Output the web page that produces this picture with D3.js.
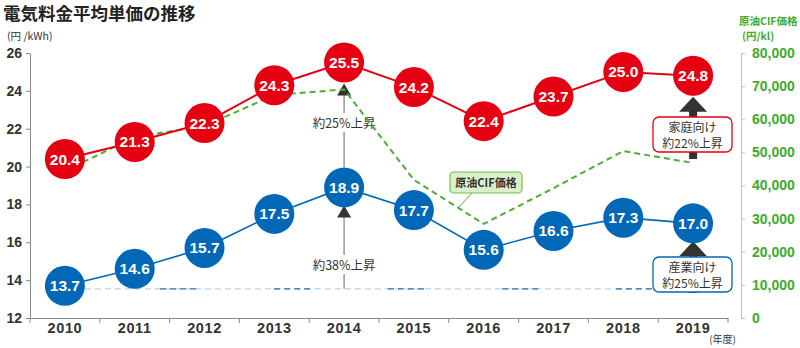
<!DOCTYPE html>
<html><head><meta charset="utf-8">
<script src="https://cdn.jsdelivr.net/npm/d3@7"></script>
<style>
html,body{margin:0;padding:0;background:#fff;}
svg{display:block;font-family:"Liberation Sans","Noto Sans CJK JP",sans-serif;}
</style></head>
<body><svg id="c" width="800" height="348"></svg>
<script>
const years = [2010,2011,2012,2013,2014,2015,2016,2017,2018,2019];
const household = [20.4,21.3,22.3,24.3,25.5,24.2,22.4,23.7,25.0,24.8];
const industry = [13.7,14.6,15.7,17.5,18.9,17.7,15.6,16.6,17.3,17.0];
const crude = [44400,54600,58000,67300,69000,41700,28400,39200,50400,46800];
const leftTicks = [12,14,16,18,20,22,24,26];
const rightTicks = [0,10000,20000,30000,40000,50000,60000,70000,80000];

const RED="#e50012", BLUE="#0068b6", GREEN="#4caf32", GTEXT="#3dab2b", DARK="#333";
const svg = d3.select("#c");
const x = d3.scaleBand().domain(years).range([30,728]);
const cx = d => x(d) + x.bandwidth()/2;
const yL = d3.scaleLinear().domain([12,26]).range([318,53]);
const yR = d3.scaleLinear().domain([0,80000]).range([318,53]);
const R = 20;

// titles
svg.append("text").attr("x",3).attr("y",20).attr("font-size",17.5).attr("font-weight","bold")
  .attr("fill","#222").attr("font-family","Noto Sans CJK JP").text("電気料金平均単価の推移");
svg.append("text").attr("x",7).attr("y",40).attr("font-size",10.5).attr("fill",DARK)
  .attr("font-family","Noto Sans CJK JP").text("(円 /kWh)");
svg.append("text").attr("x",739).attr("y",25).attr("font-size",10.5).attr("font-weight","bold")
  .attr("fill",GTEXT).attr("font-family","Noto Sans CJK JP").text("原油CIF価格");
svg.append("text").attr("x",742).attr("y",40).attr("font-size",10.5).attr("font-weight","bold")
  .attr("fill",GTEXT).attr("font-family","Noto Sans CJK JP").text("(円/kl)");
svg.append("text").attr("x",736).attr("y",343).attr("font-size",10).attr("text-anchor","end")
  .attr("fill",DARK).attr("font-family","Noto Sans CJK JP").text("(年度)");

// left axis
const gl = svg.append("g").attr("transform","translate(30,0)")
  .call(d3.axisLeft(yL).tickValues(leftTicks).tickSize(4).tickPadding(4).tickSizeOuter(0));
gl.select(".domain").attr("stroke","#888");
gl.selectAll(".tick line").attr("stroke","#888");
gl.selectAll(".tick text").attr("font-size",14).attr("font-weight","bold").attr("fill",DARK)
  .attr("font-family","Liberation Sans");

// right axis
const gr = svg.append("g").attr("transform","translate(741,0)")
  .call(d3.axisRight(yR).tickValues(rightTicks).tickSize(4).tickPadding(7).tickSizeOuter(0)
    .tickFormat(d3.format(",")));
gr.select(".domain").attr("stroke","#a8d69a");
gr.selectAll(".tick line").attr("stroke","#a8d69a");
gr.selectAll(".tick text").attr("font-size",14).attr("font-weight","bold").attr("fill",GTEXT)
  .attr("font-family","Liberation Sans");

// bottom axis
const gb = svg.append("g").attr("transform","translate(0,318)")
  .call(d3.axisBottom(x).tickSize(0).tickPadding(5).tickSizeOuter(0));
gb.select(".domain").attr("stroke","#888");
gb.selectAll(".tick text").attr("font-size",14.5).attr("font-weight","bold").attr("fill",DARK)
  .attr("letter-spacing",0.6).attr("font-family","Liberation Sans");
const bounds = years.map(d=>x(d)).concat([x.range()[1]]);
svg.append("g").selectAll("line").data(bounds).join("line")
  .attr("x1",d=>d).attr("x2",d=>d).attr("y1",318).attr("y2",323).attr("stroke","#888");

// industry baseline dashed
const baseY = yL(industry[0]) + 3;
svg.append("line").attr("x1",cx(years[0])).attr("x2",cx(years[9])).attr("y1",baseY).attr("y2",baseY)
  .attr("stroke","#b8d2ea").attr("stroke-width",1.2).attr("stroke-dasharray","6,4");
svg.append("line").attr("x1",160).attr("x2",cx(years[9])).attr("y1",baseY).attr("y2",baseY)
  .attr("stroke","#2f6fab").attr("stroke-width",1.2).attr("stroke-dasharray","6,4,6,4,6,4,6,78");

// 2014 thin arrows
const i14 = 4, x14 = cx(years[i14]);
function thinArrow(y0, yTip){
  svg.append("line").attr("x1",x14).attr("x2",x14).attr("y1",y0).attr("y2",yTip+10)
    .attr("stroke","#999").attr("stroke-width",1.5);
  svg.append("path").attr("d",`M${x14},${yTip} L${x14-7},${yTip+12} L${x14+7},${yTip+12} Z`).attr("fill",DARK);
}
thinArrow(baseY, yL(industry[i14])+R-2);
thinArrow(yL(industry[i14])-R, yL(household[i14])+R+1);
function whiteLabel(t, y){
  const g = svg.append("g");
  const tx = g.append("text").attr("x",x14).attr("y",y).attr("text-anchor","middle")
    .attr("font-size",12.5).attr("fill",DARK).attr("font-family","Noto Sans CJK JP").text(t);
  const b = tx.node().getBBox();
  g.insert("rect","text").attr("x",b.x-2).attr("y",b.y).attr("width",b.width+4).attr("height",b.height).attr("fill","#fff");
}
whiteLabel("約25%上昇",128);
whiteLabel("約38%上昇",270);

// crude line
const line = d3.line().x((d,i)=>cx(years[i]));
svg.append("path").datum(crude).attr("d",line.y(d=>yR(d)))
  .attr("fill","none").attr("stroke",GREEN).attr("stroke-width",2).attr("stroke-dasharray","6,4");

// crude legend box
svg.append("line").attr("x1",472).attr("y1",193).attr("x2",458).attr("y2",208).attr("stroke",GREEN).attr("stroke-width",1);
svg.append("rect").attr("x",450).attr("y",172).attr("width",72).attr("height",21).attr("rx",4)
  .attr("fill","#d9f0c9").attr("stroke","#72be52").attr("stroke-width",1.2);
svg.append("text").attr("x",486).attr("y",187).attr("text-anchor","middle").attr("font-size",11)
  .attr("font-weight","bold").attr("fill",DARK).attr("font-family","Noto Sans CJK JP").text("原油CIF価格");

// 2019 thick arrows
const x19 = cx(years[9]);
function thickArrow(y0, yTip){
  svg.append("rect").attr("x",x19-4).attr("y",yTip+12).attr("width",8).attr("height",y0-yTip-12).attr("fill",DARK);
  svg.append("path").attr("d",`M${x19},${yTip} L${x19-14},${yTip+15} L${x19+14},${yTip+15} Z`).attr("fill",DARK);
}
thickArrow(yL(household[0]), yL(household[9])+R+1);
thickArrow(baseY+4, yL(industry[9])+R-2);
function box(y, col, l1, l2){
  svg.append("rect").attr("x",653).attr("y",y).attr("width",79).attr("height",35).attr("rx",6)
    .attr("fill","#fff").attr("stroke",col).attr("stroke-width",1.3);
  svg.append("text").attr("x",692.5).attr("y",y+15).attr("text-anchor","middle").attr("font-size",12)
    .attr("fill",DARK).attr("font-family","Noto Sans CJK JP").text(l1);
  svg.append("text").attr("x",692.5).attr("y",y+30.5).attr("text-anchor","middle").attr("font-size",12)
    .attr("fill",DARK).attr("font-family","Noto Sans CJK JP").text(l2);
}
box(117, RED, "家庭向け", "約22%上昇");
box(257, BLUE, "産業向け", "約25%上昇");

// series
function series(vals, col, w){
  svg.append("path").datum(vals).attr("d",d3.line().x((d,i)=>cx(years[i])).y(d=>yL(d)))
    .attr("fill","none").attr("stroke",col).attr("stroke-width",w);
  const g = svg.append("g").selectAll("g").data(vals).join("g")
    .attr("transform",(d,i)=>`translate(${cx(years[i])},${yL(d)})`);
  g.append("circle").attr("r",R).attr("fill",col);
  g.append("text").attr("y",5.5).attr("text-anchor","middle").attr("font-size",15.5).attr("font-weight","bold")
    .attr("fill","#fff").text(d=>d.toFixed(1));
}
series(household, RED, 2);
series(industry, BLUE, 1.6);
</script></body></html>
